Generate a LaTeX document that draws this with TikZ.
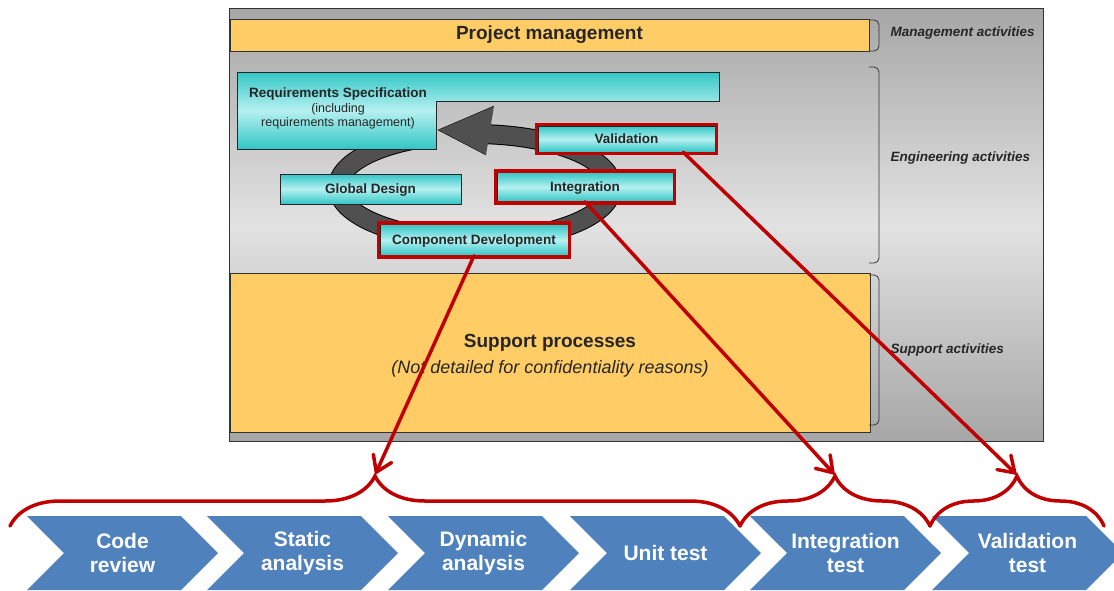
\documentclass[tikz,border=0pt]{standalone}
\usepackage{fontspec}
\setmainfont{Liberation Sans}
\usetikzlibrary{arrows.meta, positioning, shapes.symbols, fit, calc, decorations.pathreplacing}

\definecolor{panelgray}{RGB}{166,166,166}
\definecolor{panellight}{RGB}{226,226,226}
\definecolor{boxorange}{RGB}{255,204,102}
\definecolor{tealdark}{RGB}{50,198,198}
\definecolor{teallight}{RGB}{182,240,240}
\definecolor{framered}{RGB}{192,0,0}
\definecolor{stepblue}{RGB}{79,129,189}
\definecolor{cyclegray}{RGB}{80,80,80}
\definecolor{textdark}{RGB}{38,38,38}

\begin{document}
\begin{tikzpicture}[
    x=1pt, y=-1pt,
    >=Stealth,
    % Bloques naranja (gestion y soporte)
    area/.style = {
        rectangle,
        draw=black!80,
        fill=boxorange,
        inner sep=0pt,
        text=textdark,
        align=center
    },
    % Actividades de ingenieria (turquesa)
    activity/.style = {
        rectangle,
        draw=black!85,
        top color=tealdark,
        bottom color=tealdark,
        middle color=teallight,
        inner sep=0pt,
        text height=9.6pt,
        text depth=0pt,
        text=textdark,
        font=\fontsize{13.5}{16}\selectfont\bfseries
    },
    % Marco rojo de las actividades verificadas
    highlight/.style = {rectangle, draw=framered, line width=3.5pt, inner sep=1.5pt},
    % Etiquetas de la derecha
    sidelabel/.style = {anchor=west, text=textdark, font=\fontsize{13.5}{15}\selectfont\bfseries\itshape},
    bracket/.style = {draw=black!80, thick, rounded corners=5pt},
    % Pasos de verificacion (azul)
    stepbox/.style = {
        signal,
        signal to=east,
        signal from=west,
        signal pointer angle=90,
        fill=stepblue,
        minimum width=191pt,
        minimum height=74pt,
        inner sep=0pt,
        text=white,
        align=center,
        font=\fontsize{21}{24}\selectfont\bfseries
    },
    % Lineas rojas
    link/.style = {draw=framered, line width=3.5pt, line cap=round, -{Straight Barb[length=15pt, width=20pt, line cap=round]}},
    group/.style = {draw=framered, line width=3.5pt, line cap=round, decorate, decoration={brace, amplitude=50pt, aspect=0.5}}
]
    \useasboundingbox (0,0) rectangle (1114,590);
    \clip (0,0) rectangle (1114,590);

    % --- PANEL GRIS ---
    \path[draw=black!80, top color=panelgray, bottom color=panelgray, middle color=panellight] (229,8) rectangle (1043,441);

    % --- GESTION Y SOPORTE ---
    \node [area, minimum width=639pt, minimum height=32pt, font=\fontsize{19}{22}\selectfont\bfseries] (pm) at (549.5,35) {Project management};
    \node [area, minimum width=640pt, minimum height=159pt] (support) at (550,352.5) {};
    \node [align=center, text=textdark, font=\fontsize{19}{26}\selectfont] (supporttext) at (550,355.5)
        {\bfseries Support processes\\ \itshape\fontsize{18}{26}\selectfont (Not detailed for confidentiality reasons)};

    % Llaves y etiquetas laterales
    \draw [bracket] (869,20) -- (879,20) -- (879,51) -- (869,51);
    \draw [bracket] (869,67) -- (879,67) -- (879,263) -- (869,263);
    \draw [bracket] (869,275) -- (879,275) -- (879,425) -- (869,425);
    \node [sidelabel] (mgmtlabel) at (887,33) {Management activities};
    \node [sidelabel] (englabel) at (887,158) {Engineering activities};
    \node [sidelabel] (suplabel) at (887,350) {Support activities};

    % --- CICLO (flecha gris) ---
    \draw [black, line width=20pt] (417.1,139) arc[start angle=115, end angle=446, x radius=137pt, y radius=53pt];
    \draw [cyclegray, line width=18pt] (417.1,139) arc[start angle=115, end angle=446, x radius=137pt, y radius=53pt];
    \fill [cyclegray] (494,106) -- (438,130) -- (486,155) -- cycle;
    \draw [black, thin] (494,106) -- (438,130) -- (486,155);

    % --- ACTIVIDADES ---
    \path [draw=black!85, top color=tealdark, bottom color=tealdark, middle color=teallight]
        (237,72) -- (719,72) -- (719,101) -- (436,101) -- (436,149) -- (237,149) -- cycle;
    \node [align=center, text=textdark, font=\fontsize{12.5}{14.5}\selectfont] (req) at (338,108.5)
        {{\fontsize{13.5}{14.5}\selectfont\bfseries Requirements Specification}\\(including\\requirements management)};
    \node [activity, minimum width=181pt, minimum height=30pt] (globd) at (370.5,189) {Global Design};
    \node [activity, minimum width=177pt, minimum height=26pt] (valid) at (626.5,139) {Validation};
    \node [activity, minimum width=176pt, minimum height=29pt] (integ) at (585,187) {Integration};
    \node [activity, minimum width=188pt, minimum height=31pt] (comp) at (474,240) {Component Development};

    \node [highlight, fit=(valid)] (validframe) {};
    \node [highlight, fit=(integ)] (integframe) {};
    \node [highlight, fit=(comp)] (compframe) {};

    % --- PASOS DE VERIFICACION ---
    \node [stepbox] (review) at (122.5,553) {Code\\review};
    \node [stepbox] (static) at (302.5,553) {Static\\analysis};
    \node [stepbox] (dynamic) at (483.5,553) {Dynamic\\analysis};
    \node [stepbox] (unit) at (665.5,553) {Unit test};
    \node [stepbox] (integtest) at (845.5,553) {Integration\\test};
    \node [stepbox] (validtest) at (1027.5,553) {Validation\\test};

    % --- LLAVES ROJAS ---
    \coordinate (tip1) at (375,475);
    \coordinate (tip2) at (835,475);
    \coordinate (tip3) at (1017,475);
    \draw [group] (10,526) -- (740,526);
    \draw [group] (740,526) -- (930,526);
    \draw [group] (930,526) -- (1104,526);

    % --- CONEXIONES ---
    \draw [link] (comp.south) -- (tip1);
    \draw [link] (integ.south) -- (tip2);
    \draw [link] ($(valid.south)!0.64!(valid.south east)$) -- (tip3);

\end{tikzpicture}
\end{document}
